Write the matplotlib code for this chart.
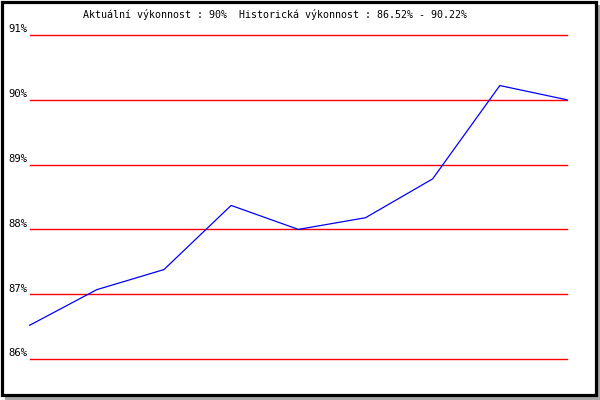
import matplotlib
matplotlib.use("Agg")
import matplotlib.pyplot as plt
from matplotlib.patches import Rectangle
import matplotlib.transforms as mtransforms

values = [86.52, 87.07, 87.38, 88.37, 88.00, 88.18, 88.78, 90.22, 90.00]
grid_levels = [86, 87, 88, 89, 90, 91]
grid_labels = ["86%", "87%", "88%", "89%", "90%", "91%"]
title = "Aktuální výkonnost : 90%  Historická výkonnost : 86.52% - 90.22%"

W, H = 600, 400
fig = plt.figure(figsize=(6, 4), dpi=100)
fig.patch.set_facecolor("white")

# shadow and frame
fig.patches.append(Rectangle((5 / W, 0), 595 / W, 395 / H, transform=fig.transFigure,
                             facecolor="#a8a8a8", edgecolor="none", zorder=-3))
fig.patches.append(Rectangle((1.5 / W, 5.5 / H), 594.5 / W, 393 / H, transform=fig.transFigure,
                             facecolor="white", edgecolor="black", linewidth=2.3, zorder=-2))

ax = fig.add_axes([29.6 / W, 1 - 359 / H, (567 - 29.6) / W, (359 - 35) / H])
ax.set_zorder(5)
ax.set_facecolor("none")
ax.set_xlim(0, len(values) - 1)
ax.set_ylim(86, 91)
for s in ax.spines.values():
    s.set_visible(False)
ax.set_xticks([])
ax.set_yticks([])

for lv in grid_levels:
    ax.axhline(lv, color="#ff0000", linewidth=1.0, clip_on=False, zorder=1)

ax.plot(range(len(values)), values, color="#0000ff", linewidth=0.9, clip_on=False, zorder=2)

trans = mtransforms.blended_transform_factory(fig.transFigure, ax.transData)
offset = mtransforms.ScaledTranslation(0, 0.5 / 72, fig.dpi_scale_trans)
for lv, lb in zip(grid_levels, grid_labels):
    ax.text(8 / W, lv, lb, transform=trans + offset, ha="left", va="bottom",
            fontsize=7.6, family="DejaVu Sans Mono", color="black")

fig.text(275 / W, 1 - 15 / H, title, ha="center", va="center",
         fontsize=7.2, family="DejaVu Sans Mono", color="black", zorder=6)

fig.savefig("out.png", dpi=100, facecolor="white")
